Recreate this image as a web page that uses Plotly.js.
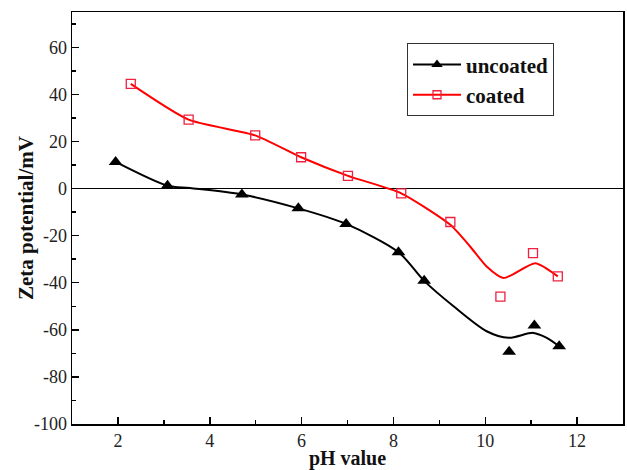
<!DOCTYPE html>
<html>
<head>
<meta charset="utf-8">
<script src="https://cdn.plot.ly/plotly-3.0.1.min.js"></script>
<style>html,body{margin:0;padding:0;background:#fff;}#chart{width:627px;height:470px;}</style>
</head>
<body>
<div id="chart"></div>
<script>
// Measured points
const uncoatedPH = [1.95, 3.08, 4.70, 5.93, 6.97, 8.11, 8.67, 10.52, 11.07, 11.61];
const uncoatedZeta = [11.3, 1.2, -2.5, -8.4, -15.0, -27.0, -39.2, -69.3, -58.2, -67.0];
const coatedPH = [2.28, 3.54, 4.99, 5.99, 7.01, 8.17, 9.24, 10.33, 11.04, 11.58];
const coatedZeta = [44.5, 29.3, 22.6, 13.3, 5.4, -2.0, -14.2, -45.9, -27.4, -37.3];

// Smoothed fit curves
const uncoatedFitPH = [1.95, 3.08, 3.57, 4.70, 5.93, 6.97, 8.11, 8.67, 9.31, 10.03, 10.51, 11.05, 11.34, 11.61];
const uncoatedFitZeta = [11.3, 1.2, 0.2, -2.5, -8.4, -15.0, -27.0, -39.2, -50.0, -60.6, -63.4, -61.3, -63.4, -67.0];
const coatedFitPH = [2.28, 3.54, 4.99, 5.99, 7.01, 8.17, 9.24, 9.67, 10.03, 10.40, 11.09, 11.58];
const coatedFitZeta = [44.5, 29.3, 22.6, 13.3, 5.4, -2.0, -15.4, -24.6, -33.1, -38.0, -31.7, -37.3];

const seriesNames = ['uncoated', 'coated'];
const xTickVals = [2, 4, 6, 8, 10, 12];
const xTickText = ['2', '4', '6', '8', '10', '12'];
const yTickVals = [-100, -80, -60, -40, -20, 0, 20, 40, 60];
const yTickText = ['-100', '-80', '-60', '-40', '-20', '0', '20', '40', '60'];

const BLACK = '#000000';
const RED = '#ff0000';
const SERIF = 'Liberation Serif, Times New Roman, serif';

const traces = [
  {x: uncoatedFitPH, y: uncoatedFitZeta, mode: 'lines', line: {color: BLACK, width: 2, shape: 'spline', smoothing: 0.8}, showlegend: false, hoverinfo: 'skip'},
  {x: coatedFitPH, y: coatedFitZeta, mode: 'lines', line: {color: RED, width: 2, shape: 'spline', smoothing: 0.6}, showlegend: false, hoverinfo: 'skip'},
  {x: uncoatedPH, y: uncoatedZeta, mode: 'markers', marker: {symbol: 'triangle-up', size: 12, color: BLACK}, showlegend: false},
  {x: coatedPH, y: coatedZeta, mode: 'markers', marker: {symbol: 'square-open', size: 9, color: '#f02040', line: {width: 1.3, color: '#f02040'}}, showlegend: false},
  // legend entries
  {x: [null], y: [null], mode: 'lines+markers', name: seriesNames[0], line: {color: BLACK, width: 2}, marker: {symbol: 'triangle-up', size: 10, color: BLACK}},
  {x: [null], y: [null], mode: 'lines+markers', name: seriesNames[1], line: {color: RED, width: 2}, marker: {symbol: 'square-open', size: 8, color: '#f02040', line: {width: 1.3, color: '#f02040'}}}
];

const axisCommon = {
  showline: true, linecolor: BLACK, linewidth: 1.5, mirror: true,
  showgrid: false, ticks: 'inside', ticklen: 7, tickwidth: 1.5, tickcolor: BLACK,
  tickfont: {family: SERIF, size: 18, color: '#222'}
};

const layout = {
  width: 627, height: 470,
  margin: {l: 72, r: 4, t: 12, b: 46},
  paper_bgcolor: '#fff', plot_bgcolor: '#fff',
  xaxis: Object.assign({}, axisCommon, {
    range: [1, 13], tickvals: xTickVals, ticktext: xTickText, zeroline: false,
    minor: {dtick: 1, ticks: 'inside', ticklen: 4, tickwidth: 1.5, tickcolor: BLACK},
    title: {text: 'pH value', font: {family: SERIF, size: 20, color: '#111', weight: 'bold'}, standoff: 2}
  }),
  yaxis: Object.assign({}, axisCommon, {
    range: [-100, 75], tickvals: yTickVals, ticktext: yTickText,
    zeroline: true, zerolinecolor: BLACK, zerolinewidth: 1.5,
    minor: {dtick: 10, ticks: 'inside', ticklen: 4, tickwidth: 1.5, tickcolor: BLACK}
  }),
  annotations: [{
    text: 'Zeta potential/mV', xref: 'paper', yref: 'paper',
    x: -0.0835, y: 0.5, xanchor: 'center', yanchor: 'middle', textangle: -90,
    showarrow: false, font: {family: SERIF, size: 21, color: '#111', weight: 'bold'}
  }],
  legend: {
    x: 0.608, y: 0.924, xanchor: 'left', yanchor: 'top',
    bordercolor: '#333', borderwidth: 1, bgcolor: '#fff',
    font: {family: SERIF, size: 21, color: '#111', weight: 'bold'},
    itemwidth: 48, tracegroupgap: 0
  },
  showlegend: true
};

Plotly.newPlot('chart', traces, layout, {displayModeBar: false, staticPlot: true});
</script>
</body>
</html>
